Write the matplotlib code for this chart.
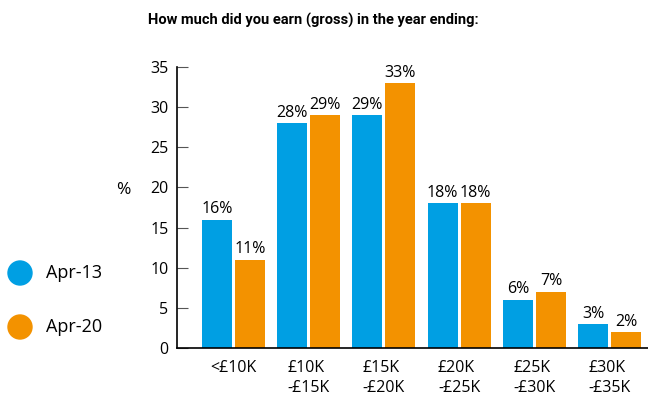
import matplotlib.pyplot as plt
from matplotlib.patches import Ellipse
import numpy as np

categories = ["<£10K", "£10K\n-£15K", "£15K\n-£20K", "£20K\n-£25K", "£25K\n-£30K", "£30K\n-£35K"]
apr13 = [16, 28, 29, 18, 6, 3]
apr20 = [11, 29, 33, 18, 7, 2]

blue = "#009fe3"
orange = "#f39200"

plt.rcParams['font.family'] = ['Open Sans', 'DejaVu Sans']

fig = plt.figure(figsize=(6.48, 4), dpi=100)
ax = fig.add_axes([0.273, 0.13, 0.727, 0.7025])

x = np.arange(len(categories))
w = 0.40
off = 0.22
b1 = ax.bar(x - off, apr13, w, color=blue)
b2 = ax.bar(x + off, apr20, w, color=orange)

for bars, vals in ((b1, apr13), (b2, apr20)):
    for b, v in zip(bars, vals):
        ax.text(b.get_x() + b.get_width() / 2, v + 0.3, f"{v}%", ha='center', va='bottom', fontsize=11.5)

ax.set_xlim(-0.75, 5.51)
ax.set_ylim(0, 35)
ax.set_yticks(range(0, 36, 5))
ax.set_xticks(x)
ax.set_xticklabels(categories, fontsize=11.5, linespacing=1.25, multialignment='left')
ax.tick_params(axis='y', direction='in', length=8, labelsize=11.5, pad=6, color='#555555')
ax.tick_params(axis='x', length=0, pad=9)
for s in ('top', 'right'):
    ax.spines[s].set_visible(False)
ax.spines['left'].set_linewidth(1.2)
ax.spines['bottom'].set_linewidth(1.2)

fig.text(123 / 648, 1 - 190 / 400, "%", fontsize=12.5, ha='center', va='center')
fig.text(313 / 648, 1 - 20 / 400, "How much did you earn (gross) in the year ending:",
         fontsize=10.5, fontweight='bold', ha='center', va='center',
         family=['Roboto', 'DejaVu Sans'])

# legend
for yy, col, lab in ((273, blue, "Apr-13"), (327, orange, "Apr-20")):
    fig.add_artist(Ellipse((20 / 648, 1 - yy / 400), 24 / 648, 24 / 400, color=col,
                           transform=fig.transFigure))
    fig.text(46 / 648, 1 - yy / 400, lab, fontsize=13, ha='left', va='center')

fig.savefig("out.png", dpi=100)
